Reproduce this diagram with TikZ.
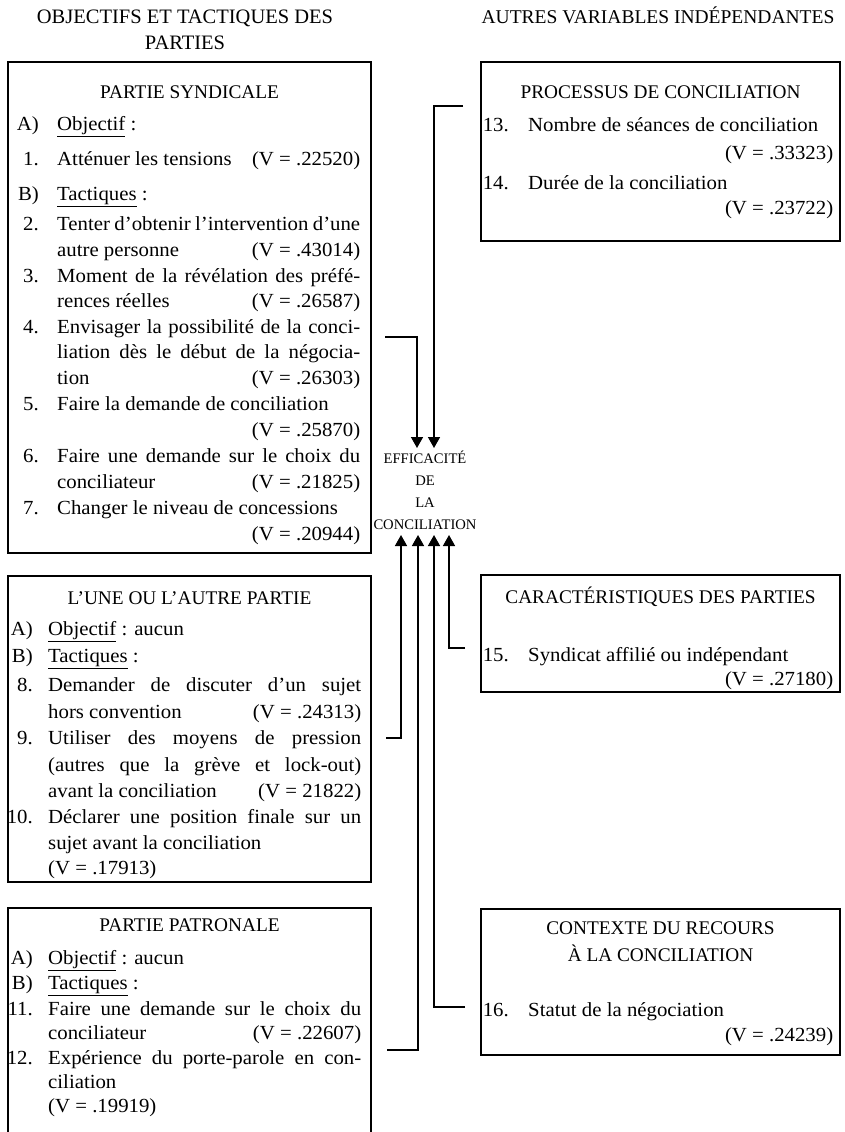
\documentclass[tikz,border=0pt]{standalone}
\usepackage{fontspec}
\setmainfont{Liberation Serif}
\newfontfamily\bodyf{Liberation Serif}[FakeStretch=1.04]
\usetikzlibrary{arrows.meta}
\newcommand\bodyfont{\bodyf\fontsize{20}{24}\selectfont}
\newcommand\ttlfont{\fontsize{19.3}{22}\selectfont}
\newcommand\hdfont{\fontsize{20.5}{24}\selectfont}
\newcommand\hdfontr{\fontsize{19.5}{24}\selectfont}
\newcommand\effont{\fontsize{14.6}{17}\selectfont}
\newcounter{nn}
\newcommand\Tx[4]{\stepcounter{nn}\node[txt,anchor=base #1] (t\arabic{nn}) at (#2,{#3+6.5}) {#4};}
\newcommand\Ttl[3]{\stepcounter{nn}\node[ttl] (t\arabic{nn}) at (#1,{#2+6}) {#3};}
\newcommand\JL[2]{{\spaceskip=0.15em plus 1fil\makebox[#1pt][s]{#2}}}
\newcommand\RL[3]{\makebox[#1pt][l]{#2\hfill#3}}
\newcommand\Itm[5]{\Tx{east}{#1}{#3}{#4}\Tx{west}{#2}{#3}{#5}}
\tikzset{
  box/.style={draw, line width=1.5pt, inner sep=0pt, outer sep=0pt, anchor=north west},
  txt/.style={inner sep=0pt, font=\bodyfont},
  ttl/.style={inner sep=0pt, font=\ttlfont, anchor=base},
  hd/.style={inner sep=0pt, font=\hdfont, anchor=base},
  ef/.style={inner sep=0pt, font=\effont, anchor=base},
  conn/.style={line width=1.5pt},
  arr/.style={conn, -{Triangle[length=11pt,width=12pt]}},
}
\begin{document}
\begin{tikzpicture}[x=1pt,y=-1pt]
\clip (0,0) rectangle (844,1132);
\fill[white] (0,0) rectangle (844,1132);

% headings
\node[hd] (h1) at (185,24) {OBJECTIFS ET TACTIQUES DES};
\node[hd] (h2) at (185,49) {PARTIES};
\node[hd, font=\hdfontr] (h3) at (658,24) {AUTRES VARIABLES INDÉPENDANTES};

% boxes
\node[box, minimum width=363pt, minimum height=491pt] (b1) at (8,62) {};
\node[box, minimum width=363pt, minimum height=306pt] (b2) at (8,576) {};
\node[box, minimum width=363pt, minimum height=240pt] (b3) at (8,908) {};
\node[box, minimum width=359pt, minimum height=179pt] (b4) at (481,62) {};
\node[box, minimum width=359pt, minimum height=117pt] (b5) at (481,575) {};
\node[box, minimum width=359pt, minimum height=146pt] (b6) at (481,909) {};

% box 1
\Ttl{189.5}{92}{PARTIE SYNDICALE}
\Itm{39}{57}{124}{A)}{\underline{Objectif} :}
\Itm{39}{57}{159}{1.}{\RL{303}{Atténuer les tensions}{(V = .22520)}}
\Itm{39}{57}{194}{B)}{\underline{Tactiques} :}
\Itm{39}{57}{224}{2.}{\JL{303}{Tenter d’obtenir l’intervention d’une}}
\Tx{west}{57}{250}{\RL{303}{autre personne}{(V = .43014)}}
\Itm{39}{57}{276}{3.}{\JL{303}{Moment de la révélation des préfé-}}
\Tx{west}{57}{301}{\RL{303}{rences réelles}{(V = .26587)}}
\Itm{39}{57}{327}{4.}{\JL{303}{Envisager la possibilité de la conci-}}
\Tx{west}{57}{352}{\JL{303}{liation dès le début de la négocia-}}
\Tx{west}{57}{378}{\RL{303}{tion}{(V = .26303)}}
\Itm{39}{57}{404}{5.}{Faire la demande de conciliation}
\Tx{west}{57}{430}{\RL{303}{}{(V = .25870)}}
\Itm{39}{57}{456}{6.}{\JL{303}{Faire une demande sur le choix du}}
\Tx{west}{57}{482}{\RL{303}{conciliateur}{(V = .21825)}}
\Itm{39}{57}{508}{7.}{Changer le niveau de concessions}
\Tx{west}{57}{534}{\RL{303}{}{(V = .20944)}}

% box 2
\Ttl{189.5}{598}{L’UNE OU L’AUTRE PARTIE}
\Itm{33}{48}{629}{A)}{\underline{Objectif} : aucun}
\Itm{33}{48}{656}{B)}{\underline{Tactiques} :}
\Itm{33}{48}{685}{8.}{\JL{313}{Demander de discuter d’un sujet}}
\Tx{west}{48}{712}{\RL{313}{hors convention}{(V = .24313)}}
\Itm{33}{48}{738}{9.}{\JL{313}{Utiliser des moyens de pression}}
\Tx{west}{48}{765}{\JL{313}{(autres que la grève et lock-out)}}
\Tx{west}{48}{791}{\RL{313}{avant la conciliation}{(V = 21822)}}
\Itm{33}{48}{817}{10.}{\JL{313}{Déclarer une position finale sur un}}
\Tx{west}{48}{843}{sujet avant la conciliation}
\Tx{west}{48}{868}{(V = .17913)}

% box 3
\Ttl{189.5}{925}{PARTIE PATRONALE}
\Itm{33}{48}{958}{A)}{\underline{Objectif} : aucun}
\Itm{33}{48}{983}{B)}{\underline{Tactiques} :}
\Itm{33}{48}{1009}{11.}{\JL{313}{Faire une demande sur le choix du}}
\Tx{west}{48}{1033}{\RL{313}{conciliateur}{(V = .22607)}}
\Itm{33}{48}{1058}{12.}{\JL{313}{Expérience du porte-parole en con-}}
\Tx{west}{48}{1082}{ciliation}
\Tx{west}{48}{1106}{(V = .19919)}

% box 4
\Ttl{660.5}{92}{PROCESSUS DE CONCILIATION}
\Itm{509}{528}{125}{13.}{Nombre de séances de conciliation}
\Tx{west}{528}{153}{\RL{305}{}{(V = .33323)}}
\Itm{509}{528}{183}{14.}{Durée de la conciliation}
\Tx{west}{528}{208}{\RL{305}{}{(V = .23722)}}

% box 5
\Ttl{660.5}{597}{CARACTÉRISTIQUES DES PARTIES}
\Itm{509}{528}{655}{15.}{Syndicat affilié ou indépendant}
\Tx{west}{528}{679}{\RL{305}{}{(V = .27180)}}

% box 6
\Ttl{660.5}{928}{CONTEXTE DU RECOURS}
\Ttl{660.5}{955}{À LA CONCILIATION}
\Itm{509}{528}{1010}{16.}{Statut de la négociation}
\Tx{west}{528}{1035}{\RL{305}{}{(V = .24239)}}

% central label
\node[ef] (e1) at (425,463) {EFFICACITÉ};
\node[ef] (e2) at (425,485) {DE};
\node[ef] (e3) at (425,507) {LA};
\node[ef] (e4) at (425,529) {CONCILIATION};

% connectors
\coordinate (s1) at (463,106);  \coordinate (d1) at (434,448);
\coordinate (s2) at (385,337);  \coordinate (d2) at (417,448);
\coordinate (s3) at (386,738);  \coordinate (u1) at (401,535);
\coordinate (s4) at (387,1050); \coordinate (u2) at (418,535);
\coordinate (s5) at (465,1007); \coordinate (u3) at (434,535);
\coordinate (s6) at (465,648);  \coordinate (u4) at (449,535);
\draw[arr] (s1) -| (d1);
\draw[arr] (s2) -| (d2);
\draw[arr] (s3) -| (u1);
\draw[arr] (s4) -| (u2);
\draw[arr] (s5) -| (u3);
\draw[arr] (s6) -| (u4);
\end{tikzpicture}
\end{document}
